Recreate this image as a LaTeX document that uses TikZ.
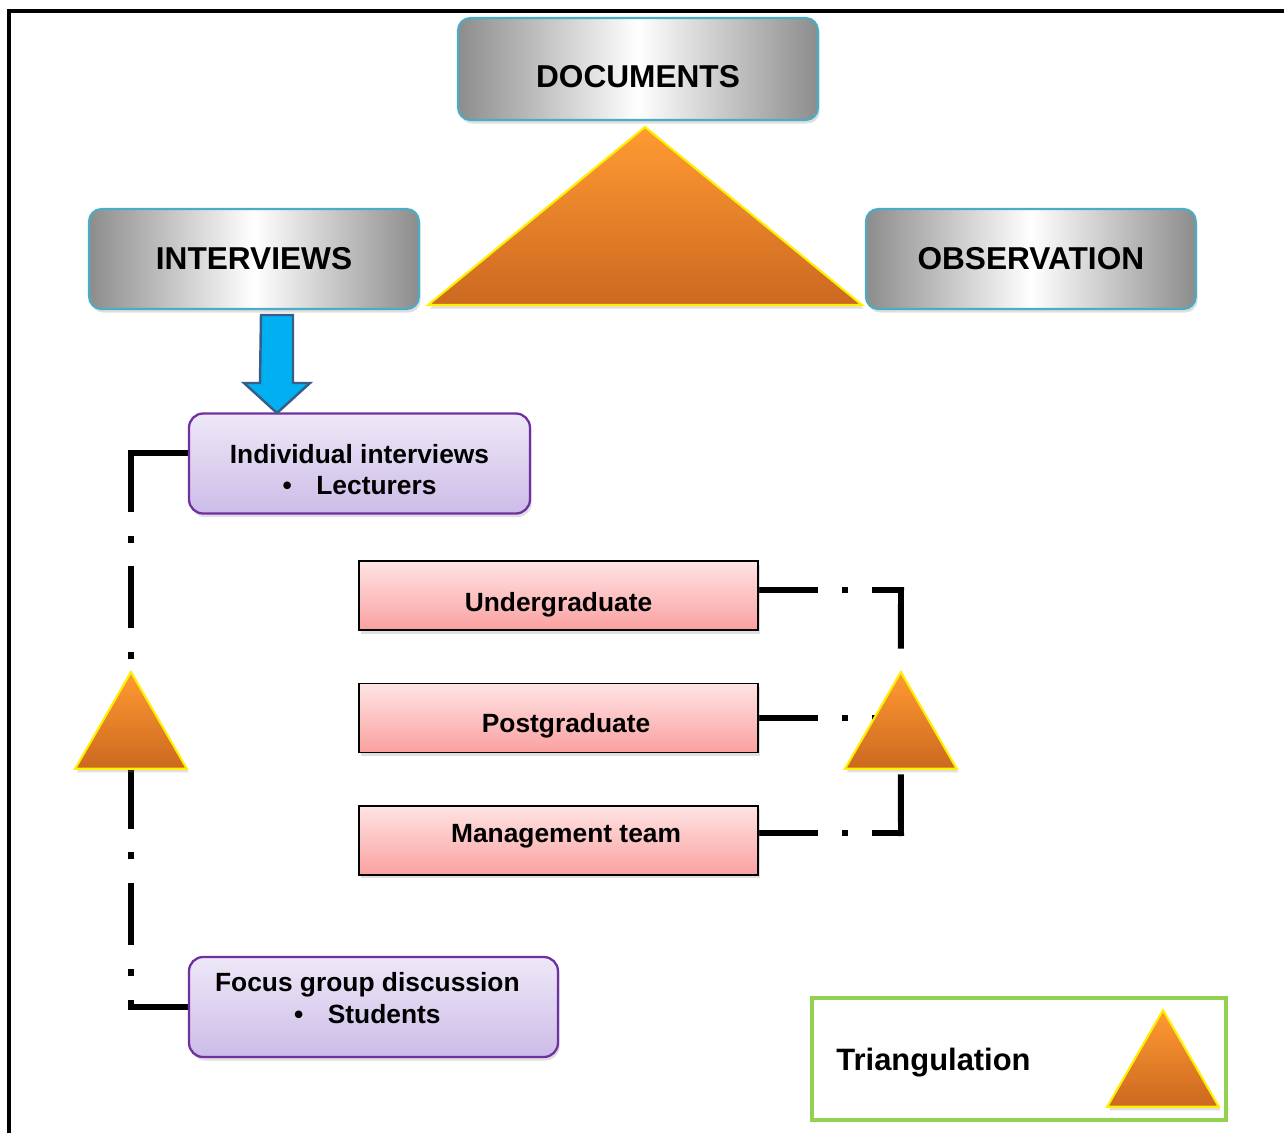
\documentclass[tikz,border=0pt]{standalone}
\usepackage{fontspec}
\setmainfont{Liberation Sans}
\usetikzlibrary{shapes.geometric,shadows,backgrounds,positioning}

\definecolor{edgeblue}{RGB}{75,172,198}
\definecolor{lilacedge}{RGB}{112,48,160}
\definecolor{lilactop}{RGB}{238,232,247}
\definecolor{lilacbot}{RGB}{204,188,232}
\definecolor{pinktop}{RGB}{255,228,228}
\definecolor{pinkbot}{RGB}{250,160,160}
\definecolor{triorange}{RGB}{255,155,50}
\definecolor{tribrown}{RGB}{204,104,32}
\definecolor{triyellow}{RGB}{255,240,0}
\definecolor{keygreen}{RGB}{146,208,80}
\definecolor{arrowblue}{RGB}{0,176,240}
\definecolor{arrowedge}{RGB}{56,93,138}

\begin{document}
\begin{tikzpicture}[x=0.02cm,y=-0.02cm,
    source/.style={draw=edgeblue,line width=1.2pt,rounded corners=7pt,
        left color=black!45,right color=black!45,middle color=white,
        minimum width=6.6cm,minimum height=2cm,
        font={\fontsize{18}{21}\selectfont\bfseries},
        drop shadow={opacity=0.25,shadow xshift=1pt,shadow yshift=-2pt}},
    method/.style={draw=lilacedge,line width=1.3pt,rounded corners=8pt,
        top color=lilactop,bottom color=lilacbot,
        minimum height=2cm,align=center,
        font={\fontsize{15}{18}\selectfont\bfseries},
        drop shadow={opacity=0.25,shadow xshift=1pt,shadow yshift=-2pt}},
    group/.style={draw=black,line width=1.1pt,
        top color=pinktop,bottom color=pinkbot,
        minimum width=7.98cm,minimum height=1.38cm,
        font={\fontsize{15}{18}\selectfont\bfseries},
        drop shadow={opacity=0.25,shadow xshift=1pt,shadow yshift=-2pt}},
    tri/.style={regular polygon,regular polygon sides=3,minimum size=2.58cm,
        inner sep=0pt,draw=triyellow,line width=1.2pt,
        top color=triorange,bottom color=tribrown,
        drop shadow={opacity=0.25,shadow xshift=1pt,shadow yshift=-2pt}},
    linkline/.style={line width=3.4pt,line cap=rect,
        dash pattern=on 31.7pt off 17pt on 0.57pt off 17pt}]

    \useasboundingbox (0,0) rectangle (1284,1133);
    \draw[line width=2pt] (9,1133) -- (9,11) -- (1284,11);

    % the three sources
    \node[source,minimum width=7.2cm,minimum height=2.04cm] (docs) at (638,69) {\rule{0pt}{20.9pt}DOCUMENTS};
    \node[source] (intv) at (254,259) {INTERVIEWS};
    \node[source] (obs) [right of=intv, node distance=15.54cm] {OBSERVATION};
    \draw[draw=triyellow,line width=1.2pt,top color=triorange,bottom color=tribrown,
        drop shadow={opacity=0.25,shadow xshift=1pt,shadow yshift=-2pt}]
        (428,305) -- (645,127) -- (862,305) -- cycle;

    % interviews
    \node[method,minimum width=6.82cm] (ind) at (359.5,463.5)
        {\rule{0pt}{17.7pt}Individual interviews\\ \textbullet\hspace{14pt}Lecturers};
    \node[method,minimum width=7.38cm] (focus) at (373.5,1007)
        {Focus group discussion\hspace*{7pt}\\ \textbullet\hspace{14pt}Students\hspace*{7pt}\rule[-10.2pt]{0pt}{0pt}};
    \coordinate (atop) at (277,315);
    \coordinate (atip) at (277,413);
    \draw[fill=arrowblue,draw=arrowedge,line width=1.4pt]
        (atop) ++(-16,0) -- ++(32,0) -- ++(0,68) -- ++(17,0) -- (atip)
        -- ++(-33,-30) -- ++(16,0) -- cycle;

    % student groups
    \node[group] (ug) at (558.5,595.5) {\rule{0pt}{21.2pt}Undergraduate};
    \node[group] (pg) [below of=ug, node distance=2.45cm] {\hspace{8.6pt}\rule{0pt}{20pt}Postgraduate};
    \node[group] (mt) [below of=pg, node distance=2.45cm] {\hspace{8.6pt}Management team\rule[-7.8pt]{0pt}{0pt}};

    % triangulation marks
    \node[tri] (tri1) at (131,736.5) {};
    \node[tri] (tri2) [right of=tri1, node distance=15.4cm] {};

    \coordinate (lc1) at (131,453);
    \coordinate (lc2) at (tri1.south |- focus.west);
    \coordinate (rc1) at (901,590);
    \coordinate (rc2) at (901,833);

    \begin{pgfonlayer}{background}
        \draw[linkline] (ind.west |- lc1) -- (lc1);
        \draw[linkline] (lc1) -- (tri1.north);
        \draw[linkline] (tri1.south) -- (lc2);
        \draw[linkline] (lc2) -- (focus.west);
        \draw[linkline] (ug.east |- rc1) -- (rc1);
        \draw[linkline] (rc1) -- (tri2.north);
        \draw[linkline] (pg.east) -- (pg.east -| tri2.north);
        \draw[linkline] (mt.east |- rc2) -- (rc2);
        \draw[linkline] (rc2) -- (tri2.south);
    \end{pgfonlayer}

    % key
    \node[draw=keygreen,line width=2.2pt,minimum width=8.28cm,minimum height=2.44cm] (legend) at (1019,1059) {};
    \node[right=0.52cm of legend.west,yshift=-2.3pt,inner sep=0pt,font={\fontsize{17.6}{20}\selectfont\bfseries}] (legtext) {Triangulation};
    \node[tri] (keytri) at (1163,1074.5) {};
\end{tikzpicture}
\end{document}
